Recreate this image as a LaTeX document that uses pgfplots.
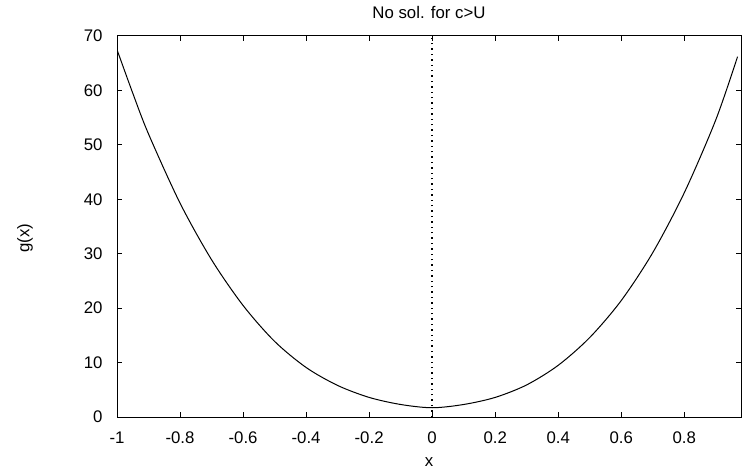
\documentclass[border=0pt]{standalone}
\usepackage{fontspec}
\setmainfont{Liberation Sans}
\usepackage{pgfplots}
\pgfplotsset{compat=1.18}
\begin{document}
\begin{tikzpicture}[font=\fontsize{8.4}{10}\selectfont]
\path[use as bounding box] (0,0) rectangle (371pt,235.5pt);
\begin{axis}[
  at={(58.5pt,27pt)}, anchor=south west,
  scale only axis, width=312pt, height=190.5pt,
  xmin=-1, xmax=0.98, ymin=0, ymax=70,
  xtick={-1,-0.8,-0.6,-0.4,-0.2,0,0.2,0.4,0.6,0.8},
  ytick={0,10,20,30,40,50,60,70},
  tick align=inside, major tick length=2.5pt,
  /pgf/number format/assume math mode=true,
  axis line style={line width=0.5pt},
  every tick/.style={black, line width=0.5pt},
  xticklabel style={yshift=-3.7pt},
  yticklabel style={xshift=-3.7pt},
  title={No sol. for c>U},
  title style={at={(0.5,1)}, anchor=center, yshift=6pt},
  xlabel={x},
  xlabel style={at={(0.5,0)}, anchor=center, yshift=-22.5pt},
  ylabel={g(x)},
  ylabel style={at={(0,0.47)}, anchor=center, yshift=46pt},
]
\addplot[black, line width=0.5pt, smooth] coordinates {
(-1,67.5) (-0.95,59.5) (-0.9,52.0) (-0.8,39.3) (-0.7,28.9) (-0.6,20.5)
(-0.5,13.9) (-0.4,9.1) (-0.3,5.8) (-0.2,3.6) (-0.1,2.3) (0,1.7)
(0.1,2.3) (0.2,3.6) (0.3,5.9) (0.4,9.5) (0.5,14.6) (0.6,21.4)
(0.7,30.2) (0.8,41.2) (0.9,54.6) (0.969,66.2)
};
\addplot[black, dotted, line width=0.7pt] coordinates {(0,0) (0,70)};
\end{axis}
\end{tikzpicture}
\end{document}
